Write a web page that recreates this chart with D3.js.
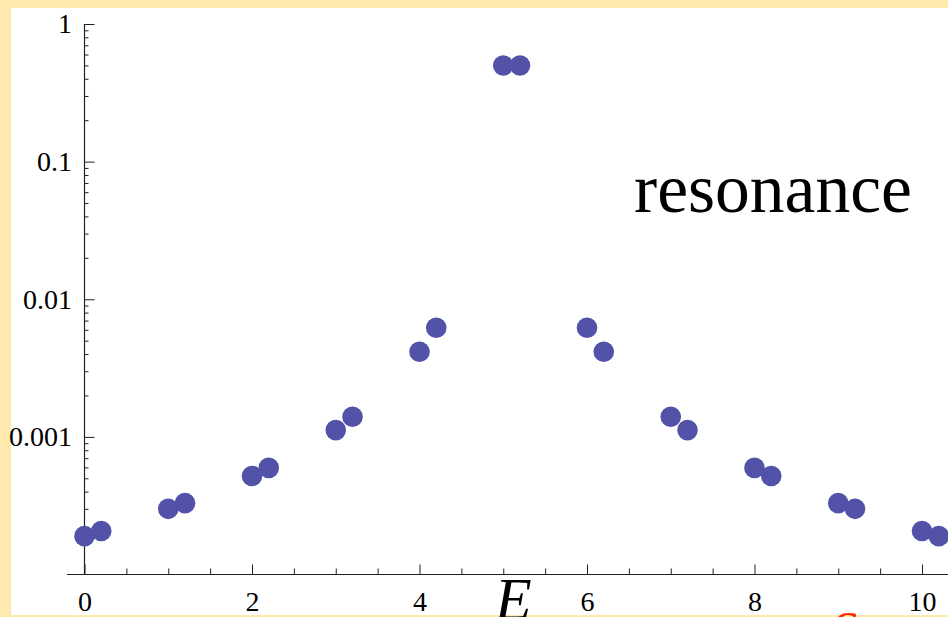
<!DOCTYPE html>
<html>
<head>
<meta charset="utf-8">
<script src="https://cdn.jsdelivr.net/npm/d3@7"></script>
<style>
  html, body { margin: 0; padding: 0; background: #ffe9ae; overflow: hidden; }
  text { font-family: "Liberation Serif", "Times New Roman", serif; }
</style>
</head>
<body>
<div id="chart"></div>
<script>
// Data: pairs of levels at E = n and n + 0.2
const energies = [0, 0.2, 1, 1.2, 2, 2.2, 3, 3.2, 4, 4.2, 5, 5.2,
                  6, 6.2, 7, 7.2, 8, 8.2, 9, 9.2, 10, 10.2];
const probs = [1.9e-4, 2.07e-4, 3.0e-4, 3.3e-4, 5.2e-4, 5.95e-4, 1.12e-3, 1.4e-3,
               4.15e-3, 6.2e-3, 0.5, 0.5, 6.2e-3, 4.15e-3, 1.4e-3, 1.12e-3,
               5.95e-4, 5.2e-4, 3.3e-4, 3.0e-4, 2.07e-4, 1.9e-4];
const xMajor = [0, 2, 4, 6, 8, 10];
const yMajor = [1, 0.1, 0.01, 0.001];
const yLabels = ["1", "0.1", "0.01", "0.001"];

const W = 948, H = 617;
const pointColor = "#5252a8";

const svg = d3.select("#chart")
    .append("svg")
    .attr("width", W)
    .attr("height", H);

// Yellow frame + white panel
svg.append("rect").attr("x", 0).attr("y", 0).attr("width", W).attr("height", H).attr("fill", "#ffe9ae");
svg.append("rect").attr("x", 11).attr("y", 8).attr("width", W - 11).attr("height", 607).attr("fill", "#ffffff");

// Scales
const x = d3.scaleLinear().domain([0, 10]).range([84.5, 922]);
const y = d3.scaleLog().domain([1e-4, 1]).range([574.5, 24]);
const x0 = 84.5, yAxisPos = 574.5;

// Minor ticks lists
const xMinor = d3.range(0, 11.01, 0.5).filter(v => v % 2 !== 0);
const yMinor = [];
[1e-4, 1e-3, 1e-2, 1e-1].forEach(dec => {
    for (let k = 2; k <= 9; k++) yMinor.push(dec * k);
});

// X axis
const gx = svg.append("g").attr("transform", `translate(0,${yAxisPos})`);
gx.append("g")
    .call(d3.axisBottom(x).tickValues(xMinor).tickSize(-6).tickFormat(""))
    .call(g => g.select(".domain").remove());
gx.append("g")
    .call(d3.axisBottom(x).tickValues(xMajor).tickSize(-10).tickFormat(d3.format("d")))
    .call(g => g.select(".domain").remove())
    .call(g => g.selectAll("text")
        .attr("y", 36).attr("dy", 0)
        .attr("font-size", 28)
        .attr("font-family", "Liberation Serif, serif")
        .attr("fill", "#000"));
gx.selectAll("line").attr("stroke", "#222");
gx.append("line")
    .attr("x1", 67).attr("x2", W)
    .attr("y1", 0).attr("y2", 0)
    .attr("stroke", "#222").attr("stroke-width", 1.2);

// Y axis
const gy = svg.append("g").attr("transform", `translate(${x0},0)`);
gy.append("g")
    .call(d3.axisLeft(y).tickValues(yMinor).tickSize(-4).tickFormat(""))
    .call(g => g.select(".domain").remove());
gy.append("g")
    .call(d3.axisLeft(y).tickValues(yMajor).tickSize(-10)
        .tickFormat((d, i) => yLabels[i]))
    .call(g => g.select(".domain").remove())
    .call(g => g.selectAll("text")
        .attr("x", -12.5)
        .attr("font-size", 28)
        .attr("font-family", "Liberation Serif, serif")
        .attr("fill", "#000"));
gy.selectAll("line").attr("stroke", "#222");
gy.append("line")
    .attr("x1", 0).attr("x2", 0)
    .attr("y1", y(1)).attr("y2", yAxisPos)
    .attr("stroke", "#222").attr("stroke-width", 1.2);

// Points
svg.append("g")
    .selectAll("circle")
    .data(energies)
    .join("circle")
    .attr("cx", d => x(d))
    .attr("cy", (d, i) => y(probs[i]))
    .attr("r", 10.3)
    .attr("fill", pointColor);

// Label inside the plot
svg.append("text")
    .attr("x", 634)
    .attr("y", 212)
    .attr("font-size", 69.5)
    .attr("fill", "#000")
    .text("resonance");

// Bottom yellow strip
svg.append("rect").attr("x", 11).attr("y", 615).attr("width", W - 11).attr("height", 2).attr("fill", "#ffe9ae");

// Axis name E (cut off at the bottom edge)
svg.append("text")
    .attr("x", 495)
    .attr("y", 619)
    .attr("font-size", 60)
    .attr("font-style", "italic")
    .attr("fill", "#000")
    .text("E");

// Red glyph peeking in at the bottom right
svg.append("text")
    .attr("x", 832)
    .attr("y", 646)
    .attr("font-size", 50)
    .attr("font-style", "italic")
    .attr("fill", "#ff2a00")
    .text("S");
</script>
</body>
</html>
